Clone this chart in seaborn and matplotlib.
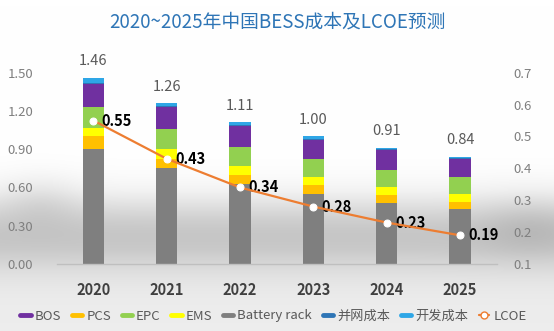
import numpy as np
import pandas as pd
import matplotlib
matplotlib.use("Agg")
import matplotlib.pyplot as plt
from matplotlib.lines import Line2D
from matplotlib.ticker import FormatStrFormatter, FixedLocator
import seaborn as sns

# ---- data (yuan/Wh) ----
years = ["2020", "2021", "2022", "2023", "2024", "2025"]
battery_rack = [0.90, 0.75, 0.63, 0.55, 0.48, 0.43]
pcs = [0.10, 0.07, 0.07, 0.07, 0.06, 0.06]
ems = [0.07, 0.08, 0.07, 0.06, 0.06, 0.06]
epc = [0.16, 0.16, 0.15, 0.14, 0.14, 0.13]
bos = [0.18, 0.17, 0.16, 0.15, 0.15, 0.14]
grid_cost = [0.01, 0.01, 0.01, 0.01, 0.01, 0.01]      # 并网成本
dev_cost = [0.04, 0.02, 0.02, 0.02, 0.01, 0.01]       # 开发成本
totals = [1.46, 1.26, 1.11, 1.00, 0.91, 0.84]
lcoe = [0.55, 0.43, 0.34, 0.28, 0.23, 0.19]

layers = [
    ("Battery rack", battery_rack, "#7f7f7f"),
    ("PCS", pcs, "#ffc000"),
    ("EMS", ems, "#ffff00"),
    ("EPC", epc, "#92d050"),
    ("BOS", bos, "#7030a0"),
    ("并网成本", grid_cost, "#2e75b6"),
    ("开发成本", dev_cost, "#2ea6e6"),
]
lcoe_color = "#ed7d31"

sns.set_style("white")
plt.rcParams["font.family"] = ["Noto Sans CJK SC", "DejaVu Sans"]

W, H = 554, 331
fig = plt.figure(figsize=(W / 100, H / 100), dpi=100)

# soft grey haze behind the plot
bg = fig.add_axes([0, 0, 1, 1], zorder=-10)
yy, xx = np.mgrid[0:H, 0:W]
haze = 0.17 * np.exp(-((yy - 232) / 38.0) ** 2)
haze += 0.07 * np.clip((yy - 190) / 60.0, 0, 1)
haze += 0.06 * np.exp(-((yy - 200) / 25.0) ** 2) * np.exp(-((xx - 40) / 40.0) ** 2)
haze += 0.06 * np.exp(-((yy - 225) / 30.0) ** 2) * np.exp(-((xx - 530) / 50.0) ** 2)
shade = 1.0 - haze
bg.imshow(np.dstack([shade, shade, shade]), extent=[0, 1, 0, 1], aspect="auto")
bg.set_axis_off()

left, right, bottom, top = 56.7 / W, 496.7 / W, 1 - 264 / H, 1 - 72.7 / H
ax = fig.add_axes([left, bottom, right - left, top - bottom])
ax.patch.set_alpha(0)

# stacked bars: draw cumulative heights from the tallest layer down
df = pd.DataFrame({"year": years})
cum = np.zeros(len(years))
cums = []
for name, vals, color in layers:
    cum = cum + np.array(vals)
    cums.append((name, cum.copy(), color))
for name, c, color in reversed(cums):
    sns.barplot(x=df["year"], y=c, color=color, width=0.29, linewidth=0,
                errorbar=None, ax=ax, saturation=1)

ax.set_xlim(-0.5, 5.5)
ax.set_ylim(0, 1.5)
ax.yaxis.set_major_locator(FixedLocator([0, 0.3, 0.6, 0.9, 1.2, 1.5]))
ax.yaxis.set_major_formatter(FormatStrFormatter("%.2f"))
ax.set_xlabel("")
ax.set_ylabel("")
for s in ["top", "right", "left"]:
    ax.spines[s].set_visible(False)
ax.spines["bottom"].set_color("#bfbfbf")
ax.spines["bottom"].set_linewidth(1.0)
ax.tick_params(axis="y", length=0, pad=17, labelsize=9.5, labelcolor="#7f7f7f")
ax.set_xticks(range(len(years)))
ax.set_xticklabels(years, fontsize=10.5, fontweight="bold", color="#404040")
ax.tick_params(axis="x", length=0, pad=13)
# category boundary ticks
ax.set_xticks(np.arange(-0.5, 6, 1.0), minor=True)
ax.tick_params(axis="x", which="minor", length=5, width=1, color="#bfbfbf")

for i, t in enumerate(totals):
    ax.annotate(f"{t:.2f}", (i, t), xytext=(0, 12), textcoords="offset points",
                ha="center", va="center", fontsize=10.5, color="#595959")

# LCOE on the secondary axis
ax2 = ax.twinx()
ax2.patch.set_alpha(0)
xpos = np.arange(len(years))
sns.lineplot(x=xpos, y=lcoe, ax=ax2, color=lcoe_color, linewidth=1.6,
             marker="o", markersize=5, markerfacecolor="white",
             markeredgecolor="white", zorder=5)
ax2.set_ylim(0.1, 0.7)
ax2.set_xlim(-0.5, 5.5)
ax2.yaxis.set_major_locator(FixedLocator([0.1, 0.2, 0.3, 0.4, 0.5, 0.6, 0.7]))
ax2.yaxis.set_major_formatter(FormatStrFormatter("%.1f"))
ax2.tick_params(axis="y", length=0, pad=12, labelsize=9.5, labelcolor="#7f7f7f")
for s in ax2.spines.values():
    s.set_visible(False)
ax2.set_ylabel("")
for i, v in enumerate(lcoe):
    ax2.annotate(f"{v:.2f}", (i, v), xytext=(6, 0), textcoords="offset points",
                 ha="left", va="center", fontsize=10.5, fontweight="bold",
                 color="black")

fig.text(0.5, 1 - 22 / H, "2020~2025年中国BESS成本及LCOE预测", ha="center",
         va="center", fontsize=13.5, color="#2e75b6")

legend_order = ["BOS", "PCS", "EPC", "EMS", "Battery rack", "并网成本", "开发成本"]
color_of = {n: c for n, _, c in layers}
handles = [Line2D([0], [0], color=color_of[n], lw=3.5) for n in legend_order]
handles.append(Line2D([0], [0], color=lcoe_color, lw=1.6, marker="o",
                      markersize=5, markerfacecolor="white",
                      markeredgecolor=lcoe_color))
labels = legend_order + ["LCOE"]
fig.legend(handles, labels, loc="center", bbox_to_anchor=(273.5 / W, 1 - 316 / H),
           ncol=8, frameon=False, fontsize=9.5, handlelength=0.8,
           handletextpad=0.3, columnspacing=0.8, labelcolor="#595959")

fig.savefig("out.png", dpi=100)
